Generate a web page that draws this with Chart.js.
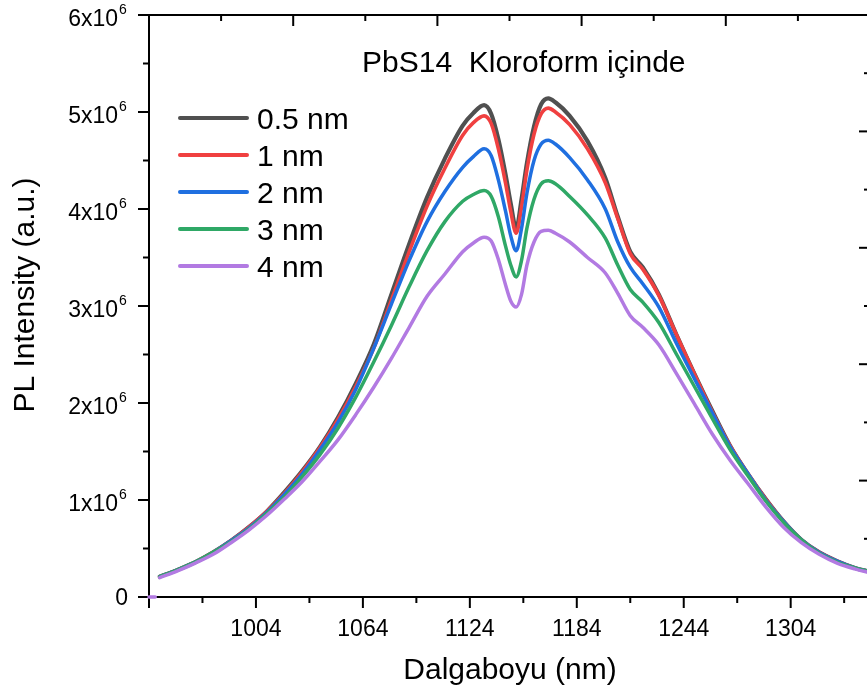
<!DOCTYPE html>
<html>
<head>
<meta charset="utf-8">
<script src="https://cdn.jsdelivr.net/npm/chart.js@4.4.0/dist/chart.umd.min.js"></script>
<style>
  html, body { margin: 0; padding: 0; background: #fff; overflow: hidden; }
  #wrap { width: 880px; height: 698px; }
</style>
</head>
<body>
<div id="wrap"><canvas id="plChart" width="880" height="698"></canvas></div>
<script>
// wavelength grid in nm
const wavelengths = [944, 947.5, 948.5,
  950, 960, 970, 980, 990, 1000, 1010, 1020, 1030, 1040, 1050, 1060, 1070, 1080, 1090, 1100, 1110, 1120,
  1126, 1132, 1136, 1140, 1144, 1147, 1150, 1153, 1156, 1160, 1164, 1168, 1172,
  1180, 1190, 1200, 1207, 1214, 1221,
  1230, 1240, 1250, 1260, 1270, 1280, 1290, 1300, 1310, 1320, 1330, 1340, 1348.5];

// PL intensity, in units of 10^6
const pl05nm = [null, null, null,
  0.21, 0.28, 0.36, 0.46, 0.58, 0.72, 0.88, 1.08, 1.30, 1.55, 1.85, 2.20, 2.60, 3.12, 3.64, 4.12, 4.52, 4.86,
  4.99, 5.07, 4.98, 4.72, 4.36, 4.05, 3.80, 4.10, 4.47, 4.85, 5.08, 5.14, 5.10,
  4.96, 4.70, 4.32, 3.92, 3.56, 3.40,
  3.12, 2.70, 2.30, 1.92, 1.56, 1.27, 1.01, 0.78, 0.59, 0.46, 0.37, 0.30, 0.26];
const pl1nm = [null, null, null,
  0.21, 0.28, 0.36, 0.46, 0.58, 0.72, 0.88, 1.07, 1.29, 1.54, 1.83, 2.17, 2.56, 3.06, 3.56, 4.03, 4.42, 4.76,
  4.89, 4.96, 4.88, 4.62, 4.27, 3.97, 3.75, 4.02, 4.40, 4.77, 4.98, 5.04, 5.00,
  4.87, 4.62, 4.27, 3.90, 3.54, 3.38,
  3.11, 2.70, 2.30, 1.91, 1.56, 1.27, 1.01, 0.78, 0.59, 0.46, 0.37, 0.30, 0.26];
const pl2nm = [null, null, null,
  0.21, 0.28, 0.36, 0.46, 0.58, 0.71, 0.87, 1.06, 1.27, 1.52, 1.80, 2.14, 2.56, 3.02, 3.47, 3.87, 4.18, 4.43,
  4.54, 4.62, 4.55, 4.30, 3.98, 3.72, 3.57, 3.80, 4.16, 4.50, 4.67, 4.71, 4.67,
  4.53, 4.30, 4.00, 3.66, 3.40, 3.23,
  2.99, 2.61, 2.25, 1.90, 1.55, 1.27, 1.00, 0.78, 0.59, 0.46, 0.37, 0.30, 0.26];
const pl3nm = [null, null, null,
  0.21, 0.28, 0.36, 0.46, 0.57, 0.70, 0.86, 1.03, 1.24, 1.47, 1.74, 2.06, 2.42, 2.80, 3.20, 3.57, 3.87, 4.08,
  4.15, 4.19, 4.13, 3.92, 3.62, 3.42, 3.30, 3.47, 3.80, 4.10, 4.26, 4.29, 4.26,
  4.13, 3.94, 3.70, 3.42, 3.17, 3.04,
  2.83, 2.50, 2.17, 1.84, 1.52, 1.25, 0.99, 0.77, 0.59, 0.45, 0.36, 0.30, 0.26];
const pl4nm = [0, 0, null,
  0.20, 0.27, 0.35, 0.44, 0.56, 0.69, 0.84, 1.01, 1.19, 1.40, 1.62, 1.88, 2.16, 2.46, 2.78, 3.10, 3.33, 3.56,
  3.65, 3.71, 3.67, 3.48, 3.22, 3.05, 2.99, 3.12, 3.42, 3.66, 3.77, 3.78, 3.75,
  3.66, 3.50, 3.34, 3.13, 2.90, 2.78,
  2.60, 2.30, 1.99, 1.68, 1.41, 1.17, 0.93, 0.72, 0.56, 0.44, 0.35, 0.29, 0.25];

const seriesValues = [pl05nm, pl1nm, pl2nm, pl3nm, pl4nm];
const seriesLabels = ['0.5 nm', '1 nm', '2 nm', '3 nm', '4 nm'];
const seriesColors = ['#505050', '#f04040', '#1f6fe0', '#2fa866', '#b27ae2'];
const seriesWidths = [4.2, 3.6, 3.5, 3.5, 3.5];

const xTickValues = [1004, 1064, 1124, 1184, 1244, 1304];
const xTickLabels = ['1004', '1064', '1124', '1184', '1244', '1304'];
const yTickValues = [0, 1, 2, 3, 4, 5, 6];
const yTickLabels = ['0', '1x10^6', '2x10^6', '3x10^6', '4x10^6', '5x10^6', '6x10^6'];

const FONT = '"Liberation Sans", Arial, sans-serif';

const line = (ctx, x1, y1, x2, y2) => {
    ctx.beginPath(); ctx.moveTo(x1, y1); ctx.lineTo(x2, y2); ctx.stroke();
};

// axes frame and ticks, under the curves
const frameAndTicks = {
    id: 'frameAndTicks',
    beforeDatasetsDraw(chart) {
        const ctx = chart.ctx;
        const a = chart.chartArea;
        const sx = chart.scales.x, sy = chart.scales.y;
        const tx = chart.scales.xTop, ry = chart.scales.yRight;
        ctx.save();
        ctx.strokeStyle = '#000';
        ctx.lineWidth = 2;
        ctx.strokeRect(a.left, a.top, a.right - a.left, a.bottom - a.top);

        // bottom: outward ticks
        for (let v = 944; v <= sx.max; v += 30) {
            const px = sx.getPixelForValue(v);
            line(ctx, px, a.bottom, px, a.bottom + ((v - 944) % 60 === 0 ? 11 : 6));
        }
        // left: outward ticks
        for (let v = 0; v <= 6; v += 0.5) {
            const py = sy.getPixelForValue(v * 1e6);
            line(ctx, a.left, py, a.left - (v % 1 === 0 ? 11 : 6), py);
        }
        // top and right: inward ticks
        for (let v = 0; v <= 5; v += 0.5) {
            const len = v % 1 === 0 ? 11 : 6;
            const px = tx.getPixelForValue(v);
            line(ctx, px, a.top, px, a.top + len);
            const py = ry.getPixelForValue(v);
            line(ctx, a.right, py, a.right - len, py);
        }
        ctx.restore();
    }
};

// tick labels, titles and legend
const labelsAndLegend = {
    id: 'labelsAndLegend',
    afterDatasetsDraw(chart) {
        const ctx = chart.ctx;
        const sx = chart.scales.x, sy = chart.scales.y;
        ctx.save();
        ctx.fillStyle = '#000';
        ctx.textBaseline = 'alphabetic';

        ctx.font = '23px ' + FONT;
        ctx.textAlign = 'center';
        xTickValues.forEach((v, i) => {
            ctx.fillText(xTickLabels[i], sx.getPixelForValue(v), 636);
        });

        yTickValues.forEach((v, i) => {
            const py = sy.getPixelForValue(v * 1e6);
            const parts = yTickLabels[i].split('^');
            if (parts.length === 1) {
                ctx.font = '23px ' + FONT;
                ctx.textAlign = 'right';
                ctx.fillText(parts[0], 128, py + 8);
            } else {
                ctx.font = '14px ' + FONT;
                ctx.textAlign = 'left';
                ctx.fillText(parts[1], 119, py - 1);
                ctx.font = '23px ' + FONT;
                ctx.textAlign = 'right';
                ctx.fillText(parts[0], 118, py + 11);
            }
        });

        ctx.font = '30px ' + FONT;
        ctx.textAlign = 'center';
        ctx.fillText('Dalgaboyu (nm)', 510, 679);
        ctx.save();
        ctx.translate(34, 295);
        ctx.rotate(-Math.PI / 2);
        ctx.fillText('PL Intensity (a.u.)', 0, 0);
        ctx.restore();

        ctx.textAlign = 'left';
        ctx.fillText('PbS14  Kloroform içinde', 362, 72);

        ctx.lineWidth = 4;
        ctx.lineCap = 'round';
        chart.data.datasets.forEach((ds, i) => {
            const y = 118 + i * 37;
            ctx.strokeStyle = ds.borderColor;
            line(ctx, 180, y, 247, y);
            ctx.fillText(ds.label, 257, y + 10.5);
        });
        ctx.restore();
    }
};

function buildDatasets() {
    return seriesValues.map((vals, i) => ({
        label: seriesLabels[i],
        data: wavelengths.map((w, k) => ({ x: w, y: vals[k] === null ? null : vals[k] * 1e6 })),
        borderColor: seriesColors[i],
        borderWidth: seriesWidths[i],
        borderCapStyle: 'round',
        borderJoinStyle: 'round',
        cubicInterpolationMode: 'monotone',
        spanGaps: false,
        pointRadius: 0,
        clip: false,
        order: seriesValues.length - i
    }));
}

function drawChart() {
    const ctx = document.getElementById('plChart').getContext('2d');
    new Chart(ctx, {
        type: 'line',
        data: { datasets: buildDatasets() },
        options: {
            responsive: false,
            animation: false,
            devicePixelRatio: 1,
            layout: { padding: { left: 149, top: 15, right: 10, bottom: 101 } },
            plugins: { legend: { display: false }, tooltip: { enabled: false } },
            scales: {
                x: { type: 'linear', min: 944, max: 1348.5, display: false },
                y: { type: 'linear', min: 0, max: 6e6, display: false },
                xTop: { type: 'linear', axis: 'x', position: 'top', min: 0, max: 5, display: false },
                yRight: { type: 'linear', axis: 'y', position: 'right', min: 0, max: 5, display: false }
            }
        },
        plugins: [frameAndTicks, labelsAndLegend]
    });
}

window.onload = drawChart;
</script>
</body>
</html>
